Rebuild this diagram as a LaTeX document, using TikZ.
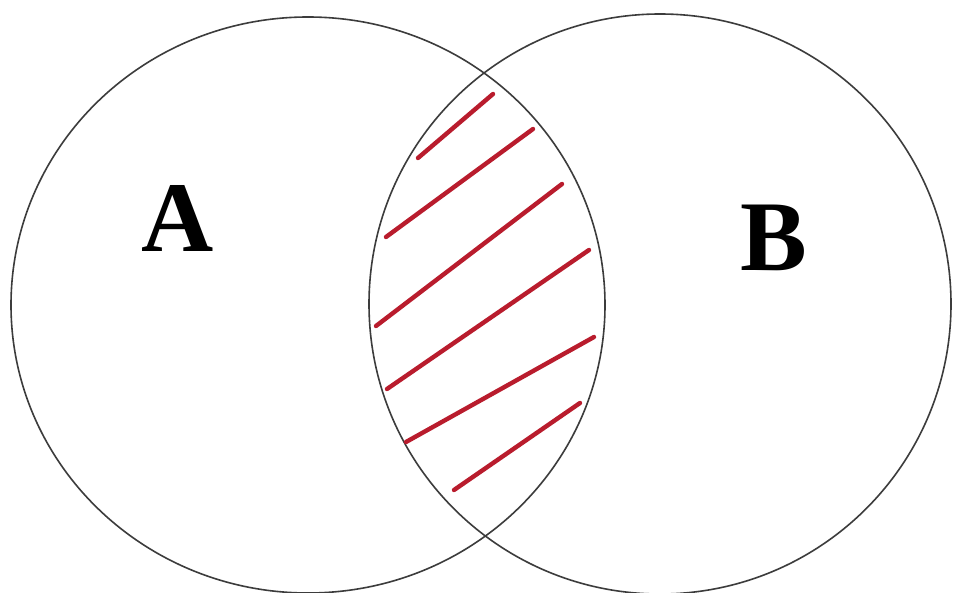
\documentclass[tikz,border=0pt]{standalone}
\usepackage{fontspec}
\setmainfont{Liberation Serif}
\definecolor{outline}{RGB}{60,60,60}
\definecolor{hatchred}{RGB}{185,28,45}
\begin{document}
\begin{tikzpicture}[x=1pt,y=-1pt,
  setline/.style={draw=outline,line width=1.6pt},
  hatch/.style={draw=hatchred,line width=4.4pt,line cap=round},
  setlabel/.style={font=\fontsize{100}{100}\selectfont\bfseries,inner sep=0pt}]
\useasboundingbox (0,0) rectangle (953,593);
\fill[white] (0,0) rectangle (953,593);
% sets
\draw[setline] (308,305) ellipse [x radius=297, y radius=288];
\draw[setline] (660,304) ellipse [x radius=291, y radius=290];
% hatching of the intersection
\draw[hatch] (418,158) -- (493,94);
\draw[hatch] (386,237) -- (533,129);
\draw[hatch] (376,326) -- (562,184);
\draw[hatch] (387,389) -- (589,250);
\draw[hatch] (406,442) -- (594,337);
\draw[hatch] (454,490) -- (580,403);
% labels
\node[setlabel] (A) at (178,218) {A};
\node[setlabel] (B) at (774,238) {B};
\end{tikzpicture}
\end{document}
